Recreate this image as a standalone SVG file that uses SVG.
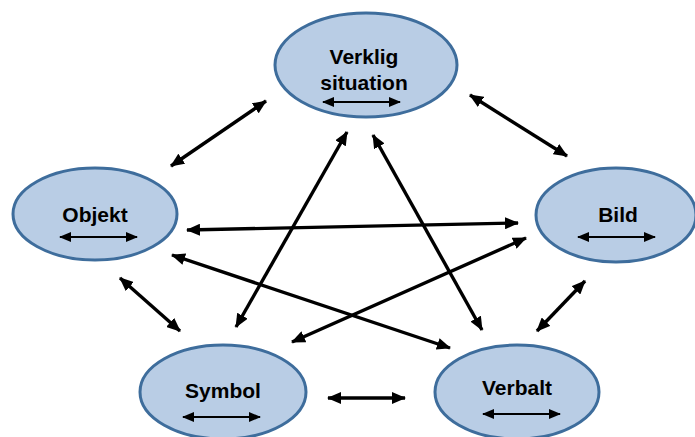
<svg xmlns="http://www.w3.org/2000/svg" width="695" height="437" viewBox="0 0 695 437">
<defs>
<style>
.node{fill:#b9cde5;stroke:#3e6d9c;stroke-width:3}
.lbl{font-family:"Liberation Sans",Arial,sans-serif;font-weight:bold;font-size:21px;fill:#000;text-anchor:middle}
.conn{stroke:#000;stroke-width:3.4;fill:none;marker-start:url(#ah);marker-end:url(#ah)}
.inner{stroke:#000;stroke-width:2.2;fill:none;marker-start:url(#ahs);marker-end:url(#ahs)}
</style>
<marker id="ah" viewBox="0 0 14 12" refX="13" refY="6" markerWidth="14" markerHeight="12" markerUnits="userSpaceOnUse" orient="auto-start-reverse">
<path d="M0,0 L14,6 L0,12 Z" fill="#000"/>
</marker>
<marker id="ahs" viewBox="0 0 12 10" refX="11" refY="5" markerWidth="12" markerHeight="10" markerUnits="userSpaceOnUse" orient="auto-start-reverse">
<path d="M0,0 L12,5 L0,10 Z" fill="#000"/>
</marker>
</defs>
<rect width="695" height="437" fill="#fff"/>
<g id="connectors">
<line class="conn" x1="266" y1="101" x2="171" y2="166"/>
<line class="conn" x1="470" y1="95" x2="567" y2="156"/>
<line class="conn" x1="120" y1="278" x2="180" y2="331"/>
<line class="conn" x1="585" y1="281" x2="537" y2="331"/>
<line class="conn" x1="328" y1="398" x2="405" y2="398"/>
<line class="conn" x1="187" y1="230" x2="518" y2="223"/>
<line class="conn" x1="172" y1="255" x2="450" y2="348"/>
<line class="conn" x1="526" y1="238" x2="292" y2="342"/>
<line class="conn" x1="347" y1="132" x2="236" y2="327"/>
<line class="conn" x1="373" y1="135" x2="482" y2="330"/>
</g>
<g id="verklig">
<ellipse class="node" cx="366" cy="65" rx="91" ry="52"/>
<text class="lbl" x="364" y="64">Verklig</text>
<text class="lbl" x="364" y="90">situation</text>
<line class="inner" x1="323" y1="102" x2="400" y2="102"/>
</g>
<g id="objekt">
<ellipse class="node" cx="95" cy="214" rx="82" ry="46"/>
<text class="lbl" x="95" y="222">Objekt</text>
<line class="inner" x1="60" y1="237" x2="137" y2="237"/>
</g>
<g id="bild">
<ellipse class="node" cx="616" cy="215" rx="80" ry="47"/>
<text class="lbl" x="618" y="222">Bild</text>
<line class="inner" x1="578" y1="237" x2="655" y2="237"/>
</g>
<g id="symbol">
<ellipse class="node" cx="223" cy="392" rx="83" ry="47"/>
<text class="lbl" x="223" y="398">Symbol</text>
<line class="inner" x1="183" y1="417" x2="260" y2="417"/>
</g>
<g id="verbalt">
<ellipse class="node" cx="517" cy="392" rx="82" ry="47"/>
<text class="lbl" x="517" y="395">Verbalt</text>
<line class="inner" x1="483" y1="414" x2="560" y2="414"/>
</g>
</svg>
